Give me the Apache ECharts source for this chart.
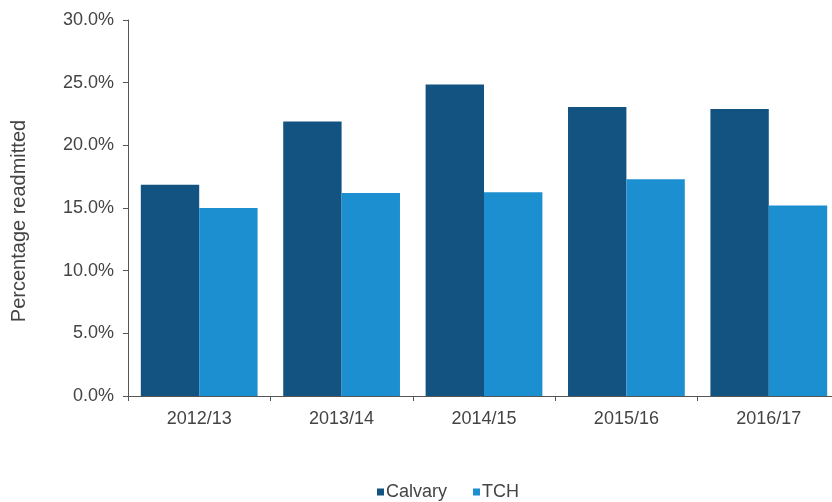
<!DOCTYPE html>
<html>
<head>
<meta charset="utf-8">
<script src="https://cdn.jsdelivr.net/npm/echarts@6/dist/echarts.min.js"></script>
<style>
  html, body { margin: 0; padding: 0; background: #fff; overflow: hidden; }
  #chart { width: 832px; height: 502px; }
</style>
</head>
<body>
<div id="chart"></div>
<script>
// Readmission rates by financial year
const years = ['2012/13', '2013/14', '2014/15', '2015/16', '2016/17'];
const calvary = [16.85, 21.9, 24.85, 23.05, 22.9];
const tch = [15.0, 16.2, 16.25, 17.3, 15.2];
const yTicks = [0, 5, 10, 15, 20, 25, 30];

const chart = echarts.init(document.getElementById('chart'), null, { renderer: 'canvas' });
const font = 'Liberation Sans, Arial, sans-serif';

chart.setOption({
  animation: false,
  textStyle: { fontFamily: font },
  // plot area runs slightly past the right edge of the canvas
  grid: { left: 128, width: 712, top: 20, height: 376, containLabel: false, outerBoundsMode: 'none' },
  legend: {
    top: 483,
    left: 377,
    padding: 0,
    itemWidth: 7,
    itemHeight: 7,
    itemGap: 26,
    icon: 'rect',
    textStyle: { fontSize: 18, color: '#444', fontFamily: font, padding: [0, 0, 0, -3] },
    data: ['Calvary', 'TCH']
  },
  xAxis: {
    type: 'category',
    data: years,
    axisLine: { lineStyle: { color: '#555', width: 1 } },
    axisTick: { show: true, alignWithLabel: false, length: 5, lineStyle: { color: '#555' } },
    axisLabel: { fontSize: 18, color: '#444', margin: 14, fontFamily: font },
    splitLine: { show: false }
  },
  yAxis: {
    type: 'value',
    min: yTicks[0],
    max: yTicks[yTicks.length - 1],
    interval: 5,
    name: 'Percentage readmitted',
    nameLocation: 'middle',
    nameGap: 99,
    nameRotate: 90,
    nameTextStyle: { fontSize: 20, color: '#444', fontFamily: font, padding: [0, 26, 0, 0] },
    axisLine: { show: true, lineStyle: { color: '#555', width: 1 } },
    axisTick: { show: true, length: 5, lineStyle: { color: '#555' } },
    axisLabel: {
      fontSize: 18, color: '#444', margin: 14, fontFamily: font,
      formatter: v => v.toFixed(1) + '%'
    },
    splitLine: { show: false }
  },
  series: [
    {
      name: 'Calvary',
      type: 'bar',
      data: calvary,
      barGap: '0%',
      barCategoryGap: '18%',
      itemStyle: { color: '#125381' }
    },
    {
      name: 'TCH',
      type: 'bar',
      data: tch,
      itemStyle: { color: '#1b8fd0' }
    }
  ]
});
</script>
</body>
</html>
